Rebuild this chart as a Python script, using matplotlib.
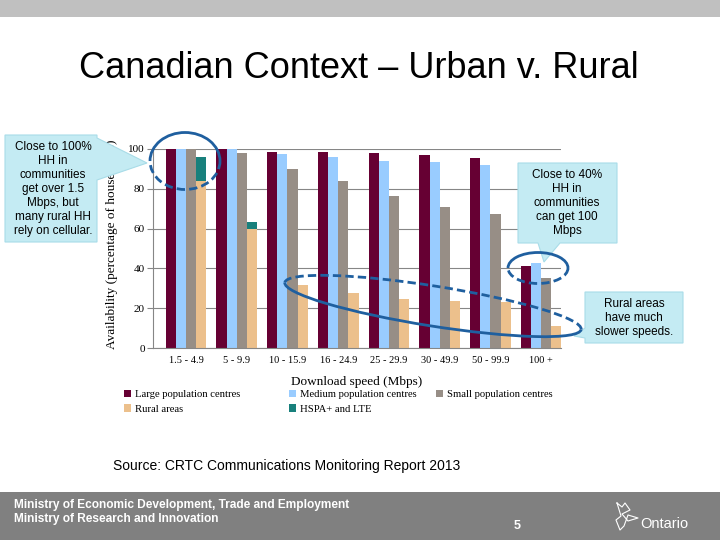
import numpy as np
import matplotlib
matplotlib.use('Agg')
import matplotlib.pyplot as plt
from matplotlib.patches import Rectangle, Polygon, Arc

# values (percentage of households)
cats = ['1.5 - 4.9', '5 - 9.9', '10 - 15.9', '16 - 24.9', '25 - 29.9', '30 - 49.9', '50 - 99.9', '100 +']
large = [100, 100, 98.5, 98.5, 98, 97, 95.5, 41]
medium = [100, 100, 97.5, 96, 94, 93.5, 92, 42.5]
small = [100, 98, 90, 84, 76.5, 71, 67.5, 35]
rural = [84, 60, 31.5, 27.5, 24.5, 23.5, 23, 11]
hspa = [12, 3.5, 0, 0, 0, 0, 0, 0]   # stacked on top of rural

names = ['Large population centres', 'Medium population centres', 'Small population centres',
         'Rural areas', 'HSPA+ and LTE']
colors = ['#660033', '#99ccff', '#978e86', '#ecc08c', '#18807c']

serif = ['Liberation Serif', 'DejaVu Serif']
sans = ['Liberation Sans', 'DejaVu Sans']

W, H = 720, 540
fig = plt.figure(figsize=(7.2, 5.4), dpi=100)

# slide background (top bar, footer)
bg = fig.add_axes([0, 0, 1, 1], zorder=0)
bg.set_xlim(0, W)
bg.set_ylim(H, 0)
bg.axis('off')
bg.add_patch(Rectangle((0, 0), W, 17, color='#c0c0c0', lw=0))
bg.add_patch(Rectangle((0, 492), W, 48, color='#808080', lw=0))
bg.text(359, 68, 'Canadian Context \u2013 Urban v. Rural', ha='center', va='center',
        fontsize=26, family=sans)
bg.text(113, 466, 'Source: CRTC Communications Monitoring Report 2013', ha='left', va='center',
        fontsize=10, family=sans)
bg.text(14, 505, 'Ministry of Economic Development, Trade and Employment', color='white',
        fontsize=8.6, family=sans, weight='bold', va='center')
bg.text(14, 519, 'Ministry of Research and Innovation', color='white',
        fontsize=8.6, family=sans, weight='bold', va='center')
bg.text(517, 526, '5', color='white', fontsize=9, family=sans, weight='bold', ha='center', va='center')
bg.text(640, 524, 'Ontario', color='white', fontsize=10.5, family=sans, va='center')
# rough trillium mark
bg.plot([617, 622, 625, 630, 622, 628, 638, 628, 624, 620, 616, 621, 617],
        [503, 507, 503, 510, 514, 521, 518, 515, 526, 530, 520, 516, 503],
        color='white', lw=0.8)

# the chart
ax = fig.add_axes([153 / W, 1 - 348 / H, 408 / W, 199 / H], zorder=1)
x = np.arange(len(cats))
bw = 0.2
ax.bar(x - 1.5 * bw, large, bw, color=colors[0], label=names[0], zorder=2)
ax.bar(x - 0.5 * bw, medium, bw, color=colors[1], label=names[1], zorder=2)
ax.bar(x + 0.5 * bw, small, bw, color=colors[2], label=names[2], zorder=2)
ax.bar(x + 1.5 * bw, rural, bw, color=colors[3], label=names[3], zorder=2)
ax.bar(x + 1.5 * bw, hspa, bw, bottom=rural, color=colors[4], label=names[4], zorder=2)

ax.set_xlim(-0.65, 7.39)
ax.set_ylim(0, 100)
ax.set_yticks([0, 20, 40, 60, 80, 100])
ax.set_xticks(x)
ax.set_xticklabels(cats, family=serif, fontsize=7.5)
for t in ax.get_yticklabels():
    t.set_family(serif)
    t.set_fontsize(8)
ax.tick_params(axis='x', length=0, pad=6)
ax.tick_params(axis='y', length=4, color='#868686', pad=2)
ax.grid(axis='y', color='#868686', lw=0.8, zorder=0)
for s in ['top', 'right']:
    ax.spines[s].set_visible(False)
for s in ['left', 'bottom']:
    ax.spines[s].set_color('#868686')
ax.set_xlabel('Download speed (Mbps)', family=serif, fontsize=9.5)
ax.xaxis.set_label_coords(0.5, -0.14)
ax.set_ylabel('Availability (percentage of households)', family=serif, fontsize=9.5)
ax.yaxis.set_label_coords(-0.086, 0.52)

# legend: three columns placed where the original has them
h, l = ax.get_legend_handles_labels()
leg_cols = [([0, 3], 124), ([1, 4], 289), ([2], 436)]
for idx, px in leg_cols:
    fig.legend([h[i] for i in idx], [l[i] for i in idx], ncol=1, loc='upper left',
               bbox_to_anchor=(px / W, 1 - 390 / H), frameon=False,
               prop={'family': serif, 'size': 7.7}, handlelength=0.7, handleheight=0.7,
               handletextpad=0.3, labelspacing=0.45, borderpad=0, borderaxespad=0)

# callouts and circles on top
ov = fig.add_axes([0, 0, 1, 1], zorder=3)
ov.set_xlim(0, W)
ov.set_ylim(H, 0)
ov.axis('off')
ov.patch.set_alpha(0)

fill = '#c4ebf3'
edge = '#a8dce8'
ov.add_patch(Polygon([(5, 135), (97, 135), (97, 138), (147, 163), (97, 180), (97, 242), (5, 242)],
                     closed=True, fc=fill, ec=edge, lw=0.8))
ov.text(53, 189, 'Close to 100%\nHH in\ncommunities\nget over 1.5\nMbps, but\nmany rural HH\nrely on cellular.',
        ha='center', va='center', fontsize=8.5, family=sans, linespacing=1.22)

ov.add_patch(Polygon([(518, 163), (617, 163), (617, 243), (560, 243), (544, 262), (538, 243), (518, 243)],
                     closed=True, fc=fill, ec=edge, lw=0.8))
ov.text(567, 203, 'Close to 40%\nHH in\ncommunities\ncan get 100\nMbps',
        ha='center', va='center', fontsize=8.5, family=sans, linespacing=1.22)

ov.add_patch(Polygon([(585, 292), (683, 292), (683, 343), (585, 343), (585, 338), (574, 336), (585, 328)],
                     closed=True, fc=fill, ec=edge, lw=0.8))
ov.text(634, 318, 'Rural areas\nhave much\nslower speeds.',
        ha='center', va='center', fontsize=8.5, family=sans, linespacing=1.22)

blue = '#1f5f9f'
dash = (0, (3, 1.5))
ov.add_patch(Arc((185, 161), 70, 57, theta1=180, theta2=360, color=blue, lw=2))
ov.add_patch(Arc((185, 161), 70, 57, theta1=0, theta2=180, color=blue, lw=2, ls=dash))
ov.add_patch(Arc((538, 268), 60, 31, theta1=180, theta2=360, color=blue, lw=2))
ov.add_patch(Arc((538, 268), 60, 31, theta1=0, theta2=180, color=blue, lw=2, ls=dash))
ov.add_patch(Arc((433, 306), 300, 40, angle=9, theta1=0, theta2=180, color=blue, lw=2))
ov.add_patch(Arc((433, 306), 300, 40, angle=9, theta1=180, theta2=360, color=blue, lw=2, ls=dash))

fig.savefig('out.png', dpi=100)
